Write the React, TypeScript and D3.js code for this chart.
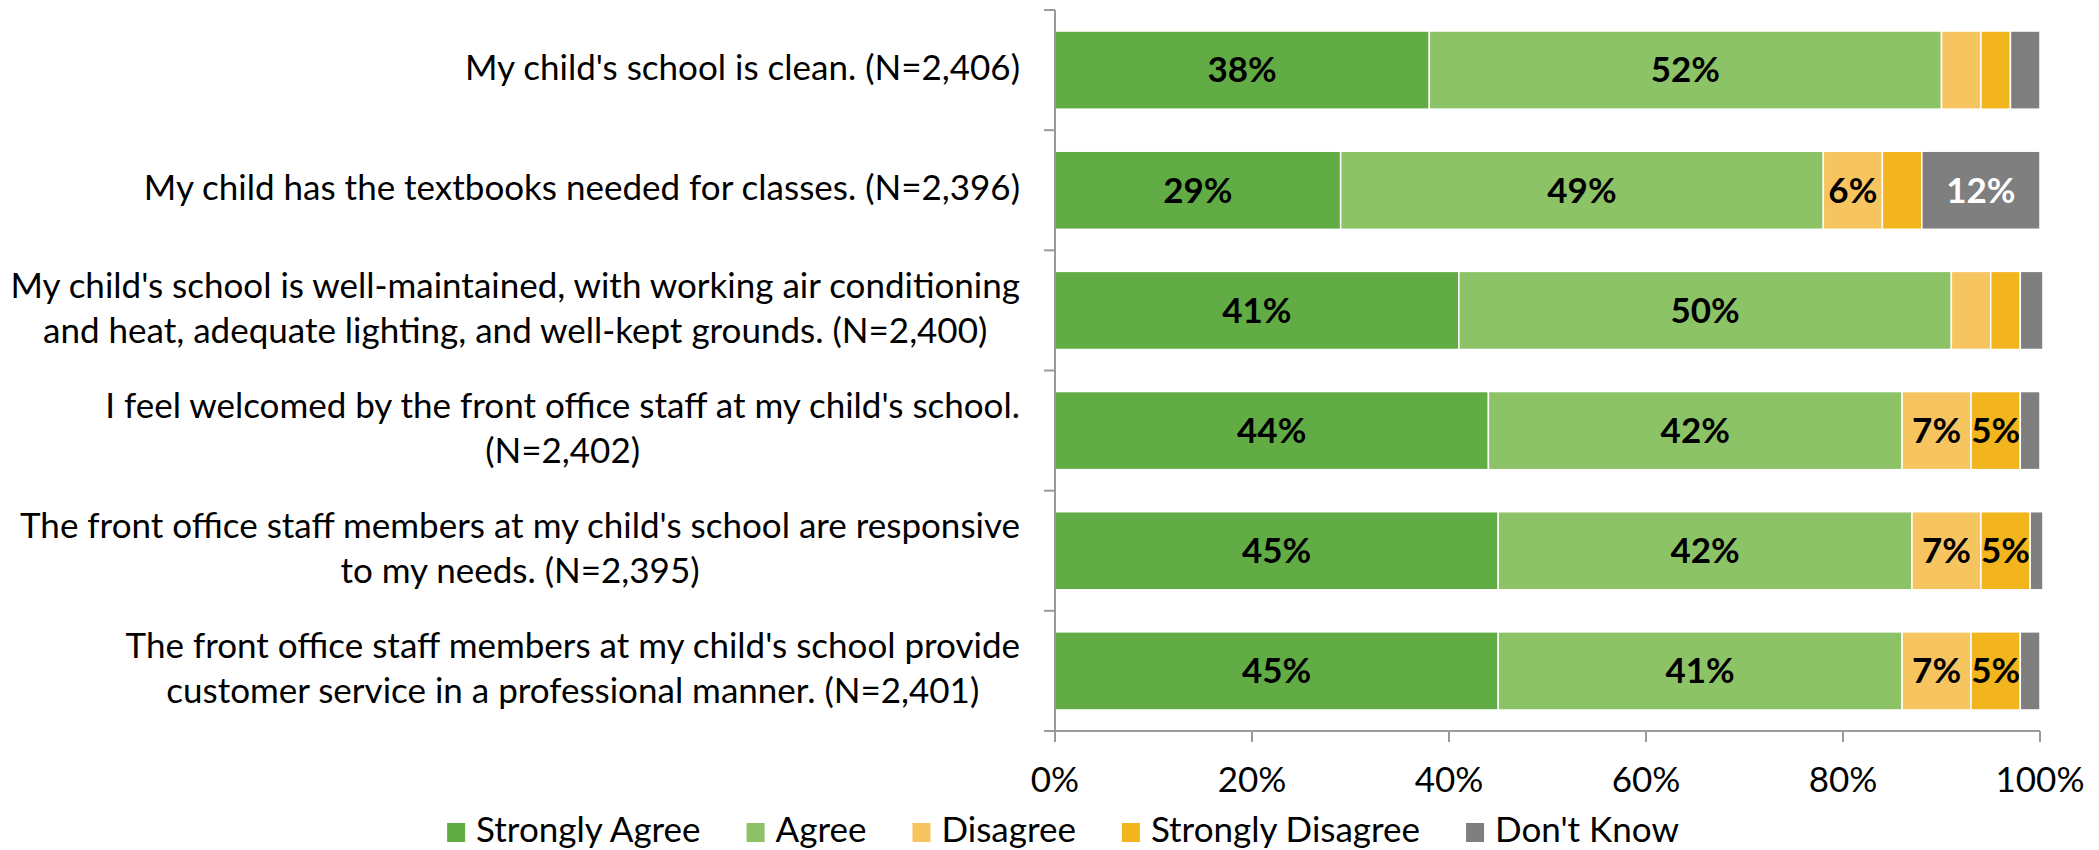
import React, { useEffect, useRef } from "react";
import * as d3 from "d3";

const categories: string[][] = [
  ["My child's school is clean. (N=2,406)"],
  ["My child has the textbooks needed for classes. (N=2,396)"],
  [
    "My child's school is well-maintained, with working air conditioning",
    "and heat, adequate lighting, and well-kept grounds. (N=2,400)",
  ],
  ["I feel welcomed by the front office staff at my child's school.", "(N=2,402)"],
  [
    "The front office staff members at my child's school are responsive",
    "to my needs. (N=2,395)",
  ],
  [
    "The front office staff members at my child's school provide",
    "customer service in a professional manner. (N=2,401)",
  ],
];

const seriesNames = ["Strongly Agree", "Agree", "Disagree", "Strongly Disagree", "Don't Know"];
const stronglyAgree = [38, 29, 41, 44, 45, 45];
const agree = [52, 49, 50, 42, 42, 41];
const disagree = [4, 6, 4, 7, 7, 7];
const stronglyDisagree = [3, 4, 3, 5, 5, 5];
const dontKnow = [3, 12, 2.3, 2, 1.3, 2];
const seriesColors = ["#62AC46", "#8DC367", "#F6C560", "#F2B51D", "#7F7F7F"];
const labelColors = ["#000", "#000", "#000", "#000", "#fff"];
const xTicks = [0, 20, 40, 60, 80, 100];

const W = 2099;
const H = 850;
const FONT = "Lato, 'Open Sans', sans-serif";
const FS = 35;

export default function App() {
  const ref = useRef<SVGSVGElement | null>(null);

  useEffect(() => {
    const svg = d3.select(ref.current);
    svg.selectAll("*").remove();

    const left = 1055;
    const right = 2040;
    const top = 10;
    const bottom = 731;
    const axisColor = "#9a9a9a";

    const x = d3.scaleLinear().domain([0, 100]).range([left, right]);
    const y = d3
      .scaleBand<number>()
      .domain(d3.range(categories.length))
      .range([top, bottom])
      .paddingInner(0.35)
      .paddingOuter(0.175);

    const allSeries = [stronglyAgree, agree, disagree, stronglyDisagree, dontKnow];

    // bars
    const g = svg.append("g");
    categories.forEach((_, i) => {
      let acc = 0;
      allSeries.forEach((s, k) => {
        const v = s[i];
        const x0 = x(acc);
        const x1 = x(acc + v);
        g.append("rect")
          .attr("x", x0)
          .attr("y", y(i)!)
          .attr("width", x1 - x0)
          .attr("height", y.bandwidth())
          .attr("fill", seriesColors[k])
          .attr("stroke", "#fff")
          .attr("stroke-width", 1.5);
        if (v >= 5) {
          g.append("text")
            .attr("x", (x0 + x1) / 2)
            .attr("y", y(i)! + y.bandwidth() / 2)
            .attr("dy", "0.35em")
            .attr("text-anchor", "middle")
            .attr("font-family", FONT)
            .attr("font-weight", "bold")
            .attr("font-size", FS)
            .attr("fill", labelColors[k])
            .text(`${Math.round(v)}%`);
        }
        acc += v;
      });
    });

    // axes
    const ax = svg.append("g").attr("stroke", axisColor).attr("stroke-width", 2);
    ax.append("line").attr("x1", left).attr("x2", left).attr("y1", top).attr("y2", bottom + 11);
    ax.append("line").attr("x1", left - 11).attr("x2", right).attr("y1", bottom).attr("y2", bottom);
    const edges = d3.range(categories.length + 1).map((i) => top + ((bottom - top) * i) / categories.length);
    edges.forEach((ey) => {
      ax.append("line").attr("x1", left - 11).attr("x2", left).attr("y1", ey).attr("y2", ey);
    });
    xTicks.forEach((t) => {
      ax.append("line").attr("x1", x(t)).attr("x2", x(t)).attr("y1", bottom).attr("y2", bottom + 11);
    });

    // x tick labels
    xTicks.forEach((t) => {
      svg
        .append("text")
        .attr("x", x(t))
        .attr("y", 792)
        .attr("text-anchor", "middle")
        .attr("font-family", FONT)
        .attr("font-size", FS)
        .attr("fill", "#000")
        .text(`${t}%`);
    });

    // category labels
    const labelRight = 1020;
    const lineH = 45;
    categories.forEach((lines, i) => {
      const cy = y(i)! + y.bandwidth() / 2;
      const grp = svg.append("g");
      const texts = lines.map((ln, j) =>
        grp
          .append("text")
          .attr("y", cy + 10 + (j - (lines.length - 1) / 2) * lineH)
          .attr("text-anchor", "middle")
          .attr("font-family", FONT)
          .attr("font-size", FS)
          .attr("fill", "#000")
          .text(ln)
      );
      const maxW = d3.max(texts, (t) => (t.node() as SVGTextElement).getComputedTextLength()) || 0;
      texts.forEach((t) => t.attr("x", labelRight - maxW / 2));
    });

    // legend
    const lg = svg.append("g");
    const sw = 18;
    const gapSwText = 11;
    const gapItem = 46;
    const items = seriesNames.map((name, k) => {
      const t = lg
        .append("text")
        .attr("y", 842)
        .attr("font-family", FONT)
        .attr("font-size", FS)
        .attr("fill", "#000")
        .text(name);
      const w = (t.node() as SVGTextElement).getComputedTextLength();
      return { t, w, k };
    });
    const total =
      d3.sum(items, (it) => sw + gapSwText + it.w) + gapItem * (items.length - 1);
    let cx = 1063 - total / 2;
    items.forEach((it) => {
      lg.append("rect")
        .attr("x", cx)
        .attr("y", 823)
        .attr("width", sw)
        .attr("height", 19)
        .attr("fill", seriesColors[it.k]);
      it.t.attr("x", cx + sw + gapSwText);
      cx += sw + gapSwText + it.w + gapItem;
    });
  }, []);

  return (
    <div style={{ position: "absolute", left: 0, top: 0 }}>
      <svg ref={ref} width={W} height={H} style={{ display: "block", background: "#fff" }} />
    </div>
  );
}
